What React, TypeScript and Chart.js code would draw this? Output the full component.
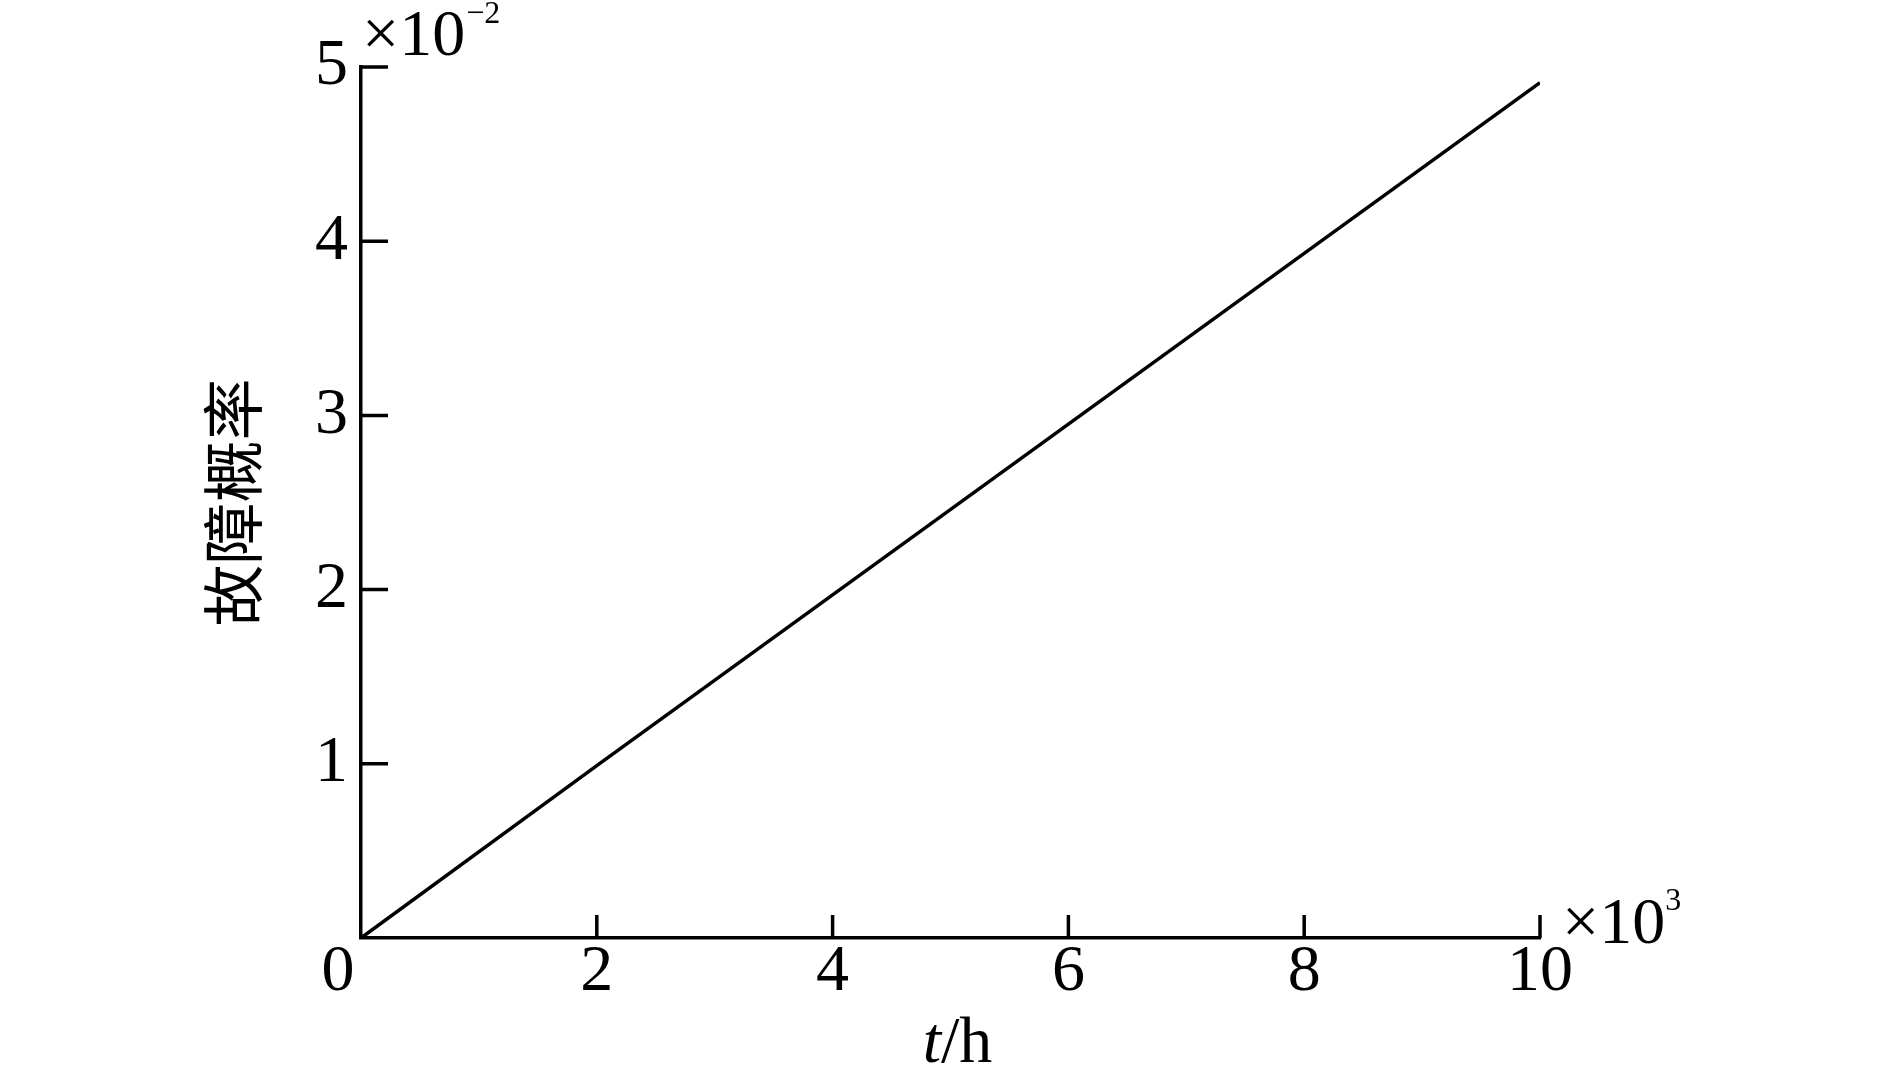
import React, { useEffect, useRef } from 'react';
import { Chart, registerables } from 'chart.js';

Chart.register(...registerables);

// t / (×10^3 h)
const timeThousandHours = [0, 2, 4, 6, 8, 10];
// failure probability (×10^-2)
const failureProbability = [0, 0.99, 1.97, 2.95, 3.93, 4.91];
const xTickValues = [2, 4, 6, 8, 10];
const yTickValues = [1, 2, 3, 4, 5];
const yAxisTitle = '故障概率';
const xAxisTitleVar = 't';
const xAxisTitleUnit = '/h';
const xMultiplierExp = '3';
const yMultiplierExp = '\u22122';
const originLabel = '0';

const SERIF = '"Liberation Serif", "Times New Roman", serif';
const LW = 3.5;

const overlayPlugin = {
  id: 'overlay',
  afterDraw(chart: any) {
    const { ctx, chartArea, scales } = chart;
    const xs = scales.x;
    const ys = scales.y;
    ctx.save();
    ctx.strokeStyle = '#000';
    ctx.lineWidth = LW;
    ctx.lineCap = 'butt';
    ctx.beginPath();
    yTickValues.forEach((v) => {
      const py = ys.getPixelForValue(v);
      ctx.moveTo(chartArea.left, py);
      ctx.lineTo(chartArea.left + 27, py);
    });
    xTickValues.forEach((v) => {
      const px = xs.getPixelForValue(v);
      ctx.moveTo(px, chartArea.bottom);
      ctx.lineTo(px, chartArea.bottom - 23);
    });
    ctx.stroke();

    ctx.fillStyle = '#000';
    // shared origin label
    ctx.font = `66px ${SERIF}`;
    ctx.textAlign = 'center';
    ctx.textBaseline = 'middle';
    ctx.fillText(originLabel, chartArea.left - 23, chartArea.bottom + 35);

    // y multiplier ×10^-2
    ctx.textAlign = 'left';
    ctx.textBaseline = 'alphabetic';
    ctx.font = `66px ${SERIF}`;
    const yx = chartArea.left + 1;
    ctx.fillText('×10', yx, chartArea.top - 12);
    const wy = ctx.measureText('×10').width;
    ctx.font = `32px ${SERIF}`;
    ctx.fillText(yMultiplierExp, yx + wy + 1, chartArea.top - 44);

    // x multiplier ×10^3
    ctx.font = `66px ${SERIF}`;
    const xx = chartArea.right + 22;
    ctx.fillText('×10', xx, chartArea.bottom + 5);
    const wx = ctx.measureText('×10').width;
    ctx.font = `32px ${SERIF}`;
    ctx.fillText(xMultiplierExp, xx + wx, chartArea.bottom - 28);

    // x title t/h
    ctx.font = `italic 66px ${SERIF}`;
    const wt = ctx.measureText(xAxisTitleVar).width;
    ctx.font = `66px ${SERIF}`;
    const wu = ctx.measureText(xAxisTitleUnit).width;
    const cx = (chartArea.left + chartArea.right) / 2 + 7;
    const start = cx - (wt + wu) / 2;
    ctx.font = `italic 66px ${SERIF}`;
    ctx.fillText(xAxisTitleVar, start, 1062);
    ctx.font = `66px ${SERIF}`;
    ctx.fillText(xAxisTitleUnit, start + wt, 1062);
    ctx.restore();
  },
};

export default function App() {
  const ref = useRef<HTMLCanvasElement | null>(null);
  useEffect(() => {
    document.body.style.margin = '0';
    const canvas = ref.current!;
    const chart = new Chart(canvas, {
      type: 'line',
      data: {
        datasets: [
          {
            data: timeThousandHours.map((t, i) => ({ x: t, y: failureProbability[i] })),
            borderColor: '#000',
            borderWidth: LW,
            pointRadius: 0,
            tension: 0,
            fill: false,
          },
        ],
      },
      options: {
        animation: false,
        responsive: false,
        devicePixelRatio: 1,
        layout: { padding: { left: 0, top: 67, right: 349, bottom: 0 } },
        plugins: { legend: { display: false }, tooltip: { enabled: false } },
        scales: {
          x: {
            type: 'linear',
            min: 0,
            max: 10,
            afterFit: (s: any) => {
              s.height = 127;
            },
            grid: { display: true, drawOnChartArea: false, drawTicks: false },
            border: { display: true, color: '#000', width: LW },
            ticks: {
              stepSize: 2,
              padding: 2,
              color: '#000',
              font: { family: SERIF, size: 66, lineHeight: 1 },
              callback: (v: any) => (v === 0 ? '' : String(v)),
            },
            title: { display: false },
          },
          y: {
            type: 'linear',
            min: 0,
            max: 5,
            afterFit: (s: any) => {
              s.width = 361;
            },
            grid: { display: true, drawOnChartArea: false, drawTicks: false },
            border: { display: true, color: '#000', width: LW },
            ticks: {
              stepSize: 1,
              padding: 13,
              color: '#000',
              font: { family: SERIF, size: 66, lineHeight: 1 },
              callback: (v: any) => (v === 0 ? '' : String(v)),
            },
            title: {
              display: true,
              text: yAxisTitle,
              color: '#000',
              font: { family: '"Noto Sans CJK SC", sans-serif', size: 62, lineHeight: 1.2 },
              padding: { top: 196, bottom: 0 },
            },
          },
        },
      },
      plugins: [overlayPlugin],
    });
    return () => chart.destroy();
  }, []);
  return (
    <canvas
      ref={ref}
      width={1889}
      height={1065}
      style={{ display: 'block', width: '1889px', height: '1065px', background: '#fff' }}
    />
  );
}
